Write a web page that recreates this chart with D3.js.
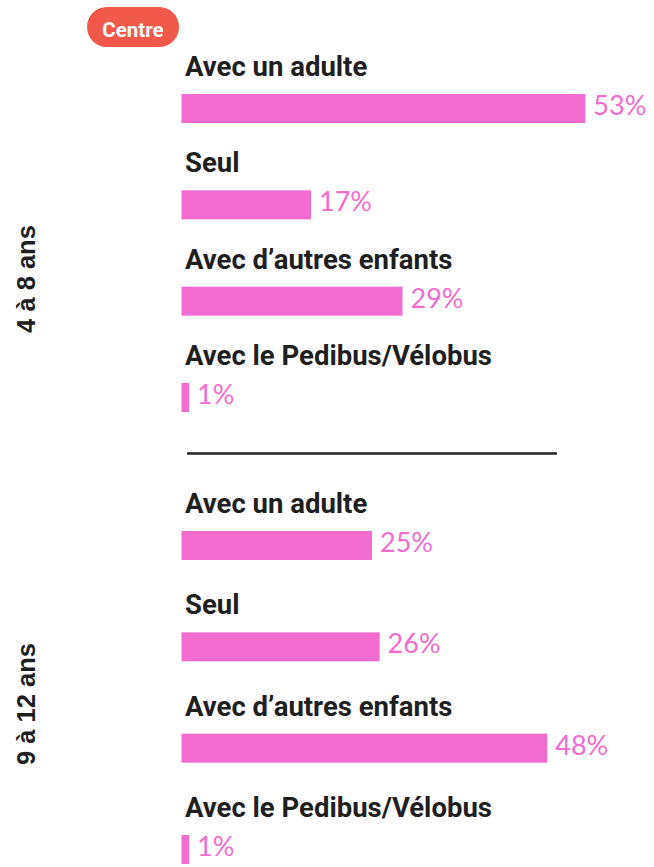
<!DOCTYPE html>
<html lang="fr">
<head>
<meta charset="utf-8">
<script src="https://cdn.jsdelivr.net/npm/d3@7"></script>
<style>
  html, body { margin: 0; padding: 0; background: #ffffff; }
  svg { display: block; }
</style>
</head>
<body>
<div id="chart"></div>
<script>
// Mode d'accompagnement sur le trajet école, par tranche d'âge
const badgeLabel = "Centre";
const ageGroups = ["4 à 8 ans", "9 à 12 ans"];
const categories = [
  "Avec un adulte",
  "Seul",
  "Avec d’autres enfants",
  "Avec le Pedibus/Vélobus"
];
const values4to8 = [53, 17, 29, 1];
const values9to12 = [25, 26, 48, 1];
const groupValues = [values4to8, values9to12];

// Mise en page
const W = 654, H = 867;
const barX = 181.5;
const barH = 29;
const pink = "#f26bcf";
const ink = "#1f1f1f";
const blocks = [
  { first: 94, last: 383, labelY: 279 },
  { first: 531, last: 835, labelY: 704 }
];

const svg = d3.select("#chart").append("svg")
  .attr("width", W).attr("height", H);

const x = d3.scaleLinear().domain([0, 50]).range([0, 381]);

// Pastille « Centre »
const badge = svg.append("g");
badge.append("rect")
  .attr("x", 87).attr("y", 7).attr("width", 92).attr("height", 40)
  .attr("rx", 20).attr("fill", "#f0594a");
badge.append("text")
  .attr("x", 133).attr("y", 36.5)
  .attr("text-anchor", "middle")
  .attr("font-family", "Roboto, 'Open Sans', sans-serif")
  .attr("font-weight", 700).attr("font-size", 20.5)
  .attr("fill", "#ffffff")
  .text(badgeLabel);

ageGroups.forEach((age, gi) => {
  const b = blocks[gi];
  const y = d3.scalePoint().domain(categories).range([b.first, b.last]);
  const rows = categories.map((c, i) => ({ cat: c, value: groupValues[gi][i] }));
  const g = svg.append("g");

  // Libellé vertical de la tranche d'âge
  g.append("text")
    .attr("transform", `translate(35,${b.labelY}) rotate(-90)`)
    .attr("text-anchor", "middle")
    .attr("font-family", "'Liberation Sans', Arial, sans-serif")
    .attr("font-weight", 700).attr("font-size", 25.5)
    .attr("fill", ink)
    .text(age);

  // Intitulés des catégories
  g.selectAll("text.cat").data(rows).join("text")
    .attr("class", "cat")
    .attr("x", barX + 3.5)
    .attr("y", d => y(d.cat) - 18)
    .attr("font-family", "Roboto, 'Open Sans', sans-serif")
    .attr("font-weight", 700).attr("font-size", 27.5)
    .attr("fill", ink)
    .text(d => d.cat);

  // Barres
  g.selectAll("rect.bar").data(rows).join("rect")
    .attr("class", "bar")
    .attr("x", barX)
    .attr("y", d => y(d.cat))
    .attr("width", d => x(d.value))
    .attr("height", barH)
    .attr("fill", pink);

  // Valeurs
  g.selectAll("text.val").data(rows).join("text")
    .attr("class", "val")
    .attr("x", d => barX + x(d.value) + 8)
    .attr("y", d => y(d.cat) + barH - 8)
    .attr("font-family", "Lato, 'Open Sans', sans-serif")
    .attr("font-weight", 400).attr("font-size", 27)
    .attr("fill", pink)
    .text(d => d.value + "%");
});

// Séparateur entre les deux tranches d'âge
svg.append("line")
  .attr("x1", 187).attr("x2", 557)
  .attr("y1", 453.5).attr("y2", 453.5)
  .attr("stroke", "#222").attr("stroke-width", 2.5);
</script>
</body>
</html>
